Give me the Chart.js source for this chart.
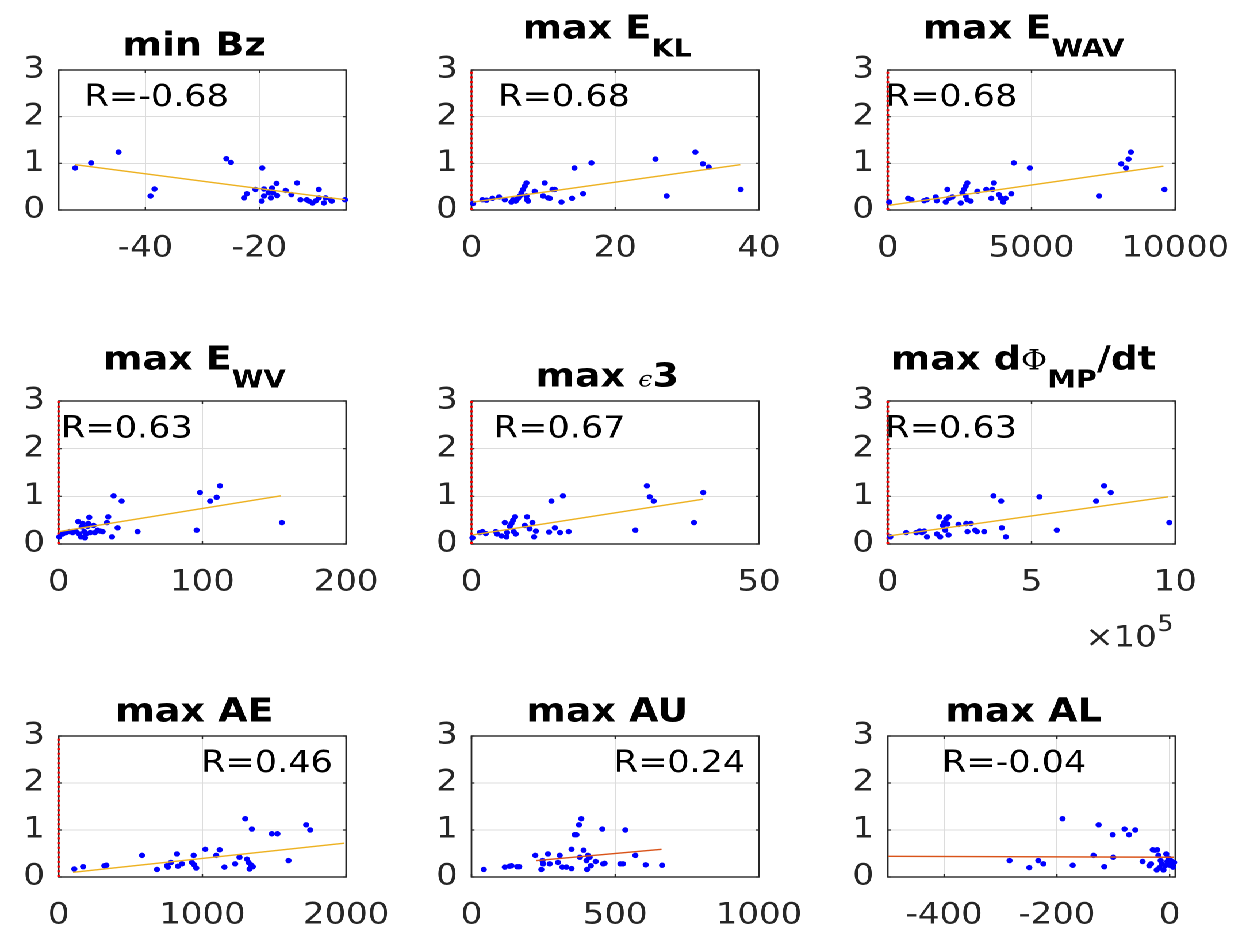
<!DOCTYPE html>
<html><head><meta charset="utf-8">
<script src="https://cdn.jsdelivr.net/npm/chart.js@4.4.1/dist/chart.umd.min.js"></script>
<style>
html,body{margin:0;padding:0;background:#fff;overflow:hidden;width:1243px;height:927px;}
#fig{position:absolute;left:0;top:0;width:1081px;height:927px;transform:scaleX(1.15);transform-origin:0 0;}
#fig canvas{position:absolute;}
</style></head><body><div id="fig"></div>
<script>
// ---------------- DATA ----------------
const bzX = [-52.3,-49.5,-44.7,-39.1,-38.4,-25.8,-25.0,-22.7,-22.2,-20.7,-19.5,-19.6,-19.2,-19.2,-18.4,-18.0,-17.8,-17.6,-17.0,-16.9,-15.4,-14.4,-13.4,-12.8,-11.7,-11.3,-10.7,-10.1,-9.6,-9.6,-8.7,-8.4,-7.5,-7.3,-5.0];
const bzY = [0.90,1.01,1.24,0.30,0.45,1.10,1.02,0.26,0.35,0.44,0.90,0.19,0.30,0.45,0.37,0.26,0.47,0.37,0.57,0.31,0.42,0.33,0.58,0.22,0.22,0.19,0.15,0.20,0.44,0.26,0.15,0.26,0.22,0.19,0.22];
const bzFitX = [-52.3,-5.0], bzFitY = [0.97,0.22];

const eklX = [0.23,1.52,2.08,2.92,3.84,4.63,5.56,5.79,6.16,6.48,6.72,6.95,7.18,7.41,7.65,7.73,7.87,7.65,8.80,9.96,10.19,10.66,10.89,11.27,11.59,12.52,14.0,14.33,15.53,16.69,25.6,27.16,31.15,32.2,33.0,37.45];
const eklY = [0.14,0.22,0.21,0.25,0.28,0.22,0.17,0.22,0.19,0.25,0.30,0.37,0.44,0.51,0.58,0.22,0.19,0.30,0.40,0.30,0.58,0.26,0.25,0.44,0.44,0.17,0.25,0.90,0.35,1.01,1.09,0.30,1.24,0.99,0.92,0.44];
const eklFitX = [0.23,37.4], eklFitY = [0.17,0.97];

const ewavX = [49,708,826,1263,1356,1669,1703,2015,2074,2130,2248,2536,2595,2650,2709,2768,2709,2768,2883,3115,3427,3601,3635,3691,3865,3923,4017,4097,4295,4385,4940,7347,8121,8284,8374,8457,9623];
const ewavY = [0.17,0.25,0.22,0.20,0.22,0.28,0.20,0.17,0.44,0.25,0.28,0.15,0.37,0.44,0.51,0.58,0.30,0.22,0.19,0.40,0.44,0.25,0.44,0.58,0.33,0.26,0.17,0.25,0.35,1.01,0.90,0.30,0.99,0.90,1.09,1.24,0.44];
const ewavFitX = [49,9588], ewavFitY = [0.10,0.94];

const ewvX = [0.4,2.8,5.1,7.4,9.7,12.0,13.6,14.3,15.5,16.0,16.7,17.8,18.3,19.0,20.2,20.6,21.3,22.0,24.3,25.2,27.1,28.9,30.6,33.6,34.5,37.1,38.2,41.0,43.8,54.9,96.0,98.3,105.4,109.9,112.2,155.3];
const ewvY = [0.15,0.21,0.24,0.26,0.24,0.26,0.47,0.21,0.15,0.36,0.43,0.26,0.13,0.21,0.37,0.43,0.56,0.24,0.39,0.24,0.29,0.27,0.26,0.45,0.57,0.15,1.01,0.34,0.90,0.26,0.29,1.08,0.90,0.98,1.22,0.45];
const ewvFitX = [0.4,154.6], ewvFitY = [0.26,1.01];

const eps3X = [0.17,1.44,1.91,2.49,4.22,4.45,5.22,5.79,6.08,6.19,6.66,6.95,7.24,7.35,7.58,7.70,9.27,9.67,10.1,10.6,10.9,11.2,13.5,13.9,14.5,15.4,15.9,16.9,28.5,30.5,31.0,31.7,38.7,40.3];
const eps3Y = [0.13,0.24,0.26,0.22,0.26,0.21,0.17,0.45,0.15,0.24,0.37,0.43,0.50,0.26,0.57,0.21,0.39,0.57,0.32,0.45,0.15,0.27,0.25,0.90,0.34,0.24,1.01,0.26,0.29,1.22,0.99,0.90,0.45,1.08];
const eps3FitX = [0.17,40.3], eps3FitY = [0.19,0.94];

const dphiX = [8700,64300,99000,110500,118800,126800,136200,171000,179000,182400,191800,196300,199800,203300,207800,211300,211300,246000,272800,277300,289000,304000,310000,335300,367600,394400,396800,410700,527500,587900,724500,752300,775500,979200];
const dphiY = [0.15,0.24,0.24,0.27,0.24,0.27,0.15,0.21,0.57,0.15,0.39,0.45,0.29,0.53,0.42,0.57,0.19,0.41,0.43,0.26,0.43,0.29,0.26,0.26,1.01,0.90,0.34,0.15,0.99,0.29,0.90,1.22,1.08,0.45];
const dphiFitX = [2800,975700], dphiFitY = [0.17,0.99];

const aeX = [109,170,318,332,580,684,754,760,781,823,830,858,927,939,943,957,1020,1096,1120,1153,1228,1258,1298,1310,1321,1328,1337,1344,1351,1483,1522,1599,1722,1750];
const aeY = [0.17,0.22,0.24,0.25,0.46,0.16,0.24,0.21,0.31,0.49,0.23,0.28,0.31,0.46,0.26,0.19,0.59,0.46,0.58,0.21,0.28,0.42,1.24,0.38,0.31,0.17,0.26,1.02,0.22,0.92,0.92,0.35,1.11,1.00];
const aeFitX = [100,1988], aeFitY = [0.10,0.72];

const auX = [42.8,116,133,139,159,166,222,243,247,249,266,272,301,307,316,330,348,348,359,365,374,382,377,390,400,402,405,411,415,432,455,458,463,518,527,535,570,606,663];
const auY = [0.16,0.21,0.23,0.24,0.22,0.22,0.46,0.16,0.35,0.28,0.49,0.28,0.31,0.46,0.21,0.21,0.18,0.59,0.90,0.90,1.11,1.24,0.42,0.57,0.35,0.16,0.46,0.42,0.24,0.33,1.02,0.28,0.29,0.28,0.28,1.00,0.46,0.26,0.25];
const auFitX = [226,661], auFitY = [0.35,0.59];

const alX = [-284,-249,-233,-224,-190,-172,-135,-126,-116,-101,-100,-80,-72,-61,-48,-36,-33,-30,-26,-23,-22,-20,-18,-16,-14,-11,-8,-6,-4,-2,0,2,5,6,8];
const alY = [0.35,0.20,0.35,0.28,1.24,0.25,0.46,1.11,0.22,0.90,0.42,1.02,0.90,1.00,0.33,0.24,0.28,0.58,0.57,0.15,0.58,0.46,0.20,0.35,0.28,0.15,0.24,0.49,0.33,0.40,0.25,0.35,0.28,0.21,0.31];
const alFitX = [-500,8], alFitY = [0.44,0.42];

const rLabels = ['R=-0.68','R=0.68','R=0.68','R=0.63','R=0.67','R=0.63','R=0.46','R=0.24','R=-0.04'];
const xLimits = [[-55.2,-4.8],[0,40],[0,10000],[0,200],[0,50],[0,1000000],[0,2000],[0,1000],[-500,10]];
const xTicks = [[-40,-20],[0,20,40],[0,5000,10000],[0,100,200],[0,50],[0,500000,1000000],[0,1000,2000],[0,500,1000],[-400,-200,0]];
const yTicks = [0,1,2,3];
const yLimits = [0,3];

// title pieces: kind m=main bold, s=subscript bold, e=epsilon symbol, p=Phi symbol
const titleParts = [
  [['m','min Bz']],
  [['m','max E'],['s','KL']],
  [['m','max E'],['s','WAV']],
  [['m','max E'],['s','WV']],
  [['m','max '],['e','\u03F5'],['m','3']],
  [['m','max d'],['p','\u03A6'],['s','MP'],['m','/dt']],
  [['m','max AE']],
  [['m','max AU']],
  [['m','max AL']]
];

// ---------------- LAYOUT / STYLE ----------------
const S = 1.15;                       // horizontal stretch of the figure
const COL_LEFT = [58.3, 471.7, 887.3]; // final pixel positions of box left edges
const ROW_TOP = [70, 401, 735.5];
const ROW_H = [140.5, 143, 141];
const BOX_W = 250;                    // unstretched box width
const PAD_L = 50, PAD_T = 70, PAD_R = 72, PAD_B = 112;
const rPos = [[-50.7,2.23],[3.7,2.23],[-80,2.23],[1.6,2.23],[3.86,2.23],[-9000,2.23],[990,2.23],[494,2.23],[-404,2.23]];
const FIT_COL = ['#EDB120','#EDB120','#EDB120','#EDB120','#EDB120','#EDB120','#EDB120','#D95319','#D95319'];
const RED_ZERO = [false,true,true,true,true,true,true,false,false];
const TICK_FONT = {family:'DejaVu Sans', size:29.5};
const AX_COL = '#262626';

const seriesX = [bzX,eklX,ewavX,ewvX,eps3X,dphiX,aeX,auX,alX];
const seriesY = [bzY,eklY,ewavY,ewvY,eps3Y,dphiY,aeY,auY,alY];
const fitXs = [bzFitX,eklFitX,ewavFitX,ewvFitX,eps3FitX,dphiFitX,aeFitX,auFitX,alFitX];
const fitYs = [bzFitY,eklFitY,ewavFitY,ewvFitY,eps3FitY,dphiFitY,aeFitY,auFitY,alFitY];

function segFont(k){
  if(k==='m') return 'bold 33px "DejaVu Sans"';
  if(k==='s') return 'bold 25px "DejaVu Sans"';
  if(k==='e') return 'italic 22px "DejaVu Serif"';
  return '28px "DejaVu Serif"';
}

const deco = {
  id:'deco',
  beforeDatasetsDraw(chart, args, o){
    const {ctx, chartArea:a, scales:{x,y}} = chart;
    ctx.save();
    ctx.strokeStyle = AX_COL; ctx.lineWidth = 1.4;
    ctx.strokeRect(a.left, a.top, a.right-a.left, a.bottom-a.top);
    ctx.lineWidth = 1.2;
    ctx.beginPath();
    y.ticks.forEach(t=>{ const py=y.getPixelForValue(t.value);
      ctx.moveTo(a.left,py); ctx.lineTo(a.left+2.6,py);
      ctx.moveTo(a.right,py); ctx.lineTo(a.right-2.6,py); });
    x.ticks.forEach(t=>{ const px=x.getPixelForValue(t.value);
      ctx.moveTo(px,a.bottom); ctx.lineTo(px,a.bottom-3);
      ctx.moveTo(px,a.top); ctx.lineTo(px,a.top+3); });
    ctx.stroke();
    ctx.restore();
  },
  afterDraw(chart, args, o){
    const {ctx, chartArea:a, scales:{x,y}} = chart;
    const i = o.idx;
    ctx.save();
    // title
    const parts = titleParts[i];
    const hasSub = parts.some(p=>p[0]==='s');
    const baseMain = hasSub ? a.top-31.5 : a.top-14.5;
    const baseSub = a.top-13.5;
    let total = 0; const ws = [];
    parts.forEach(p=>{ ctx.font=segFont(p[0]); const w=ctx.measureText(p[1]).width; ws.push(w); total+=w; });
    let cx = (a.left+a.right)/2 - 7 - total/2;
    ctx.fillStyle = '#000'; ctx.textBaseline='alphabetic'; ctx.textAlign='left';
    parts.forEach((p,k)=>{ ctx.font=segFont(p[0]); ctx.fillText(p[1], cx, p[0]==='s'?baseSub:baseMain); cx+=ws[k]; });
    // R label
    ctx.font = '30.5px "DejaVu Sans"';
    ctx.fillStyle = '#000';
    ctx.fillText(rLabels[i], x.getPixelForValue(rPos[i][0]), y.getPixelForValue(rPos[i][1]));
    // exponent label
    if(i===5){
      ctx.fillStyle = AX_COL;
      ctx.font = '29.5px "DejaVu Sans"';
      const ex = a.right-78.3;
      ctx.fillText('\u00D710', ex, a.bottom+102.7);
      const w = ctx.measureText('\u00D710').width;
      ctx.font = '22px "DejaVu Sans"';
      ctx.fillText('5', ex+w+0.5, a.bottom+87);
    }
    ctx.restore();
  }
};

const fig = document.getElementById('fig');
for(let i=0;i<9;i++){
  const col=i%3, row=Math.floor(i/3);
  const c=document.createElement('canvas');
  const w=PAD_L+BOX_W+PAD_R, h=PAD_T+ROW_H[row]+PAD_B;
  c.width=w; c.height=h;
  c.style.left=(COL_LEFT[col]/S-PAD_L)+'px';
  c.style.top=(ROW_TOP[row]-PAD_T)+'px';
  fig.appendChild(c);
  const pts=seriesX[i].map((v,k)=>({x:v,y:seriesY[i][k]}));
  const fit=fitXs[i].map((v,k)=>({x:v,y:fitYs[i][k]}));
  const ds=[
    {type:'line',data:fit,borderColor:FIT_COL[i],borderWidth:1.4,pointRadius:0,fill:false,tension:0,order:0,clip:false},
    {type:'scatter',data:pts,backgroundColor:'#0000FF',borderColor:'#0000FF',borderWidth:0,pointRadius:2.7,order:1,clip:false}
  ];
  if(RED_ZERO[i]) ds.push({type:'line',data:[{x:0,y:yLimits[0]},{x:0,y:yLimits[1]}],borderColor:'#FF0000',borderWidth:2.4,borderDash:[2,2.7],pointRadius:0,fill:false,order:2,clip:false});
  const xt=xTicks[i];
  new Chart(c,{
    type:'scatter',
    data:{datasets:ds},
    options:{
      responsive:false, animation:false, devicePixelRatio:2,
      events:[],
      layout:{padding:{left:0,top:PAD_T,right:PAD_R,bottom:0}},
      plugins:{legend:{display:false},tooltip:{enabled:false},title:{display:false},deco:{idx:i}},
      scales:{
        x:{type:'linear',min:xLimits[i][0],max:xLimits[i][1],
          afterBuildTicks:s=>{s.ticks=xt.map(v=>({value:v}));},
          afterFit:s=>{s.height=PAD_B;s.paddingLeft=0;s.paddingRight=0;s.paddingTop=0;s.paddingBottom=0;},
          grid:{color:'#dcdcdc',lineWidth:1,drawTicks:false},
          border:{display:false},
          ticks:{padding:21,font:TICK_FONT,color:AX_COL,maxRotation:0,minRotation:0,autoSkip:false,
            callback:v=> i===5 ? String(v/100000) : String(v)}
        },
        y:{type:'linear',min:yLimits[0],max:yLimits[1],
          afterBuildTicks:s=>{s.ticks=yTicks.map(v=>({value:v}));},
          afterFit:s=>{s.width=PAD_L;s.paddingLeft=0;s.paddingRight=0;s.paddingTop=0;s.paddingBottom=0;},
          grid:{color:'#dcdcdc',lineWidth:1,drawTicks:false},
          border:{display:false},
          ticks:{padding:12,font:TICK_FONT,color:AX_COL,autoSkip:false,callback:v=>String(v)}
        }
      }
    },
    plugins:[deco]
  });
}
</script></body></html>
